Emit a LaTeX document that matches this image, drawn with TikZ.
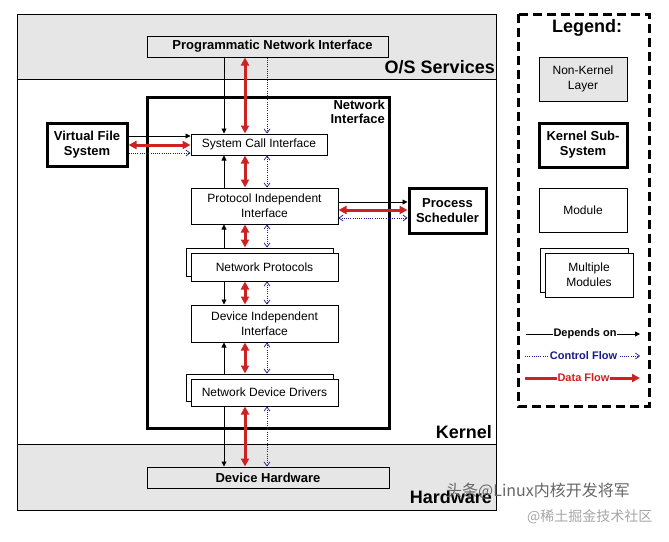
\documentclass[tikz,border=0pt]{standalone}
\usepackage{fontspec}
\setmainfont{Liberation Sans}
\newfontfamily\cjkfont{Noto Sans CJK SC}
\usetikzlibrary{arrows.meta,shadows}
\definecolor{bandgray}{HTML}{E6E6E6}
\definecolor{flowred}{HTML}{CC2222}
\definecolor{ctrlblue}{HTML}{1A1A8C}
\begin{document}
\begin{tikzpicture}[x=1pt,y=-1pt,
  plain/.style={draw, line width=1pt, fill=white, inner sep=0pt, align=center, font=\fontsize{12}{15}\selectfont},
  layerbox/.style={plain, fill=bandgray, font=\bfseries\fontsize{13}{15}\selectfont},
  subsys/.style={plain, line width=3pt, font=\bfseries\fontsize{13}{15}\selectfont},
  multi/.style={plain, copy shadow={shadow xshift=-5pt, shadow yshift=5pt, fill=white, draw=black, line width=1pt}},
  bigl/.style={font=\bfseries\fontsize{18}{20}\selectfont, inner sep=0pt},
  midl/.style={font=\bfseries\fontsize{13}{14}\selectfont, inner sep=0pt, align=right},
  legl/.style={font=\bfseries\fontsize{11}{12}\selectfont, fill=white, inner sep=1pt},
  dep/.style={line width=0.9pt, -{Triangle[length=5pt,width=5pt]}},
  data/.style={draw=flowred, line width=3pt, {Triangle[length=8pt,width=8pt]}-{Triangle[length=8pt,width=8pt]}},
  dataone/.style={draw=flowred, line width=3pt, -{Triangle[length=8pt,width=8pt]}},
  ctrl/.style={draw=ctrlblue, line width=0.7pt, dash pattern=on 1pt off 1.2pt, -{Straight Barb[length=4pt,width=6pt]}},
  ctrlb/.style={ctrl, {Straight Barb[length=4pt,width=6pt]}-{Straight Barb[length=4pt,width=6pt]}}
]
\useasboundingbox (0,0) rectangle (669,541);
% layers
\fill[bandgray] (17,14) rectangle (496,79);
\fill[bandgray] (17,444) rectangle (496,510);
\draw[line width=1pt] (17,79) -- (496,79);
\draw[line width=1pt] (17,444) -- (496,444);
\draw[line width=1pt] (17,14) rectangle (496,510);
\node[bigl, anchor=east] (oslab) at (495,67) {O/S Services};
\node[bigl, anchor=east] (kernlab) at (492,432) {Kernel};
\node[bigl, anchor=east] (hwlab) at (492,497) {Hardware};

% network interface subsystem
\node[draw, line width=3pt, minimum width=242pt, minimum height=331pt, inner sep=0pt] (ni) at (268,262.5) {};
\node[midl, anchor=north east] (nilab) at (385,100) {Network\\Interface};

% boxes
\node[layerbox, minimum width=241pt, minimum height=21pt] (pni) at (267.5,46.5) {\hspace*{10pt}Programmatic Network Interface};
\node[subsys, minimum width=80pt, minimum height=43pt] (vfs) at (87,144.5) {Virtual File\\System};
\node[plain, minimum width=136pt, minimum height=21pt] (sci) at (259,144.5) {System Call Interface};
\node[plain, minimum width=147pt, minimum height=36pt] (pii) at (264.5,206) {Protocol Independent\\Interface};
\node[subsys, minimum width=77pt, minimum height=45pt] (ps) at (447.5,210.5) {Process\\Scheduler};
\node[multi, minimum width=147pt, minimum height=28pt] (np) at (264.5,267) {Network Protocols};
\node[plain, minimum width=147pt, minimum height=37pt] (dii) at (264.5,323.5) {Device Independent\\Interface};
\node[multi, minimum width=147pt, minimum height=27pt] (ndd) at (264.5,392.5) {Network Device Drivers};
\node[layerbox, minimum width=242pt, minimum height=21pt] (dh) at (268,477.5) {Device Hardware};

\coordinate (bx) at (224,0);
\coordinate (rx) at (245,0);
\coordinate (ux) at (267,0);
\coordinate (nptop) at ([yshift=5pt]np.north);
\coordinate (nddtop) at ([yshift=5pt]ndd.north);

% PNI <-> SCI
\draw[dep] (pni.south -| bx) -- (sci.north -| bx);
\draw[data] (pni.south -| rx) -- (sci.north -| rx);
\draw[ctrl] (pni.south -| ux) -- (sci.north -| ux);
% PII -> SCI
\draw[dep] (pii.north -| bx) -- (sci.south -| bx);
\draw[data] (pii.north -| rx) -- (sci.south -| rx);
\draw[ctrlb] (pii.north -| ux) -- (sci.south -| ux);
% NP -> PII
\draw[dep] (nptop -| bx) -- (pii.south -| bx);
\draw[data] (nptop -| rx) -- (pii.south -| rx);
\draw[ctrlb] (nptop -| ux) -- (pii.south -| ux);
% NP -> DII
\draw[dep] (np.south -| bx) -- (dii.north -| bx);
\draw[data] (np.south -| rx) -- (dii.north -| rx);
\draw[ctrlb] (np.south -| ux) -- (dii.north -| ux);
% NDD -> DII
\draw[dep] (nddtop -| bx) -- (dii.south -| bx);
\draw[data] (nddtop -| rx) -- (dii.south -| rx);
\draw[ctrlb] (nddtop -| ux) -- (dii.south -| ux);
% NDD -> DH
\draw[dep] (ndd.south -| bx) -- (dh.north -| bx);
\draw[data] (ndd.south -| rx) -- (dh.north -| rx);
\draw[ctrlb] (ndd.south -| ux) -- (dh.north -| ux);

% horizontal
\coordinate (vy1) at (0,136);
\coordinate (vy2) at (0,145);
\coordinate (vy3) at (0,153);
\draw[dep] (vfs.east |- vy1) -- (sci.west |- vy1);
\draw[data] (vfs.east |- vy2) -- (sci.west |- vy2);
\draw[ctrl] (vfs.east |- vy3) -- (sci.west |- vy3);
\coordinate (py1) at (0,202);
\coordinate (py2) at (0,210);
\coordinate (py3) at (0,218);
\draw[dep] (pii.east |- py1) -- (ps.west |- py1);
\draw[data] (pii.east |- py2) -- (ps.west |- py2);
\draw[ctrlb] (pii.east |- py3) -- (ps.west |- py3);

% legend
\draw[line width=3pt, dash pattern=on 9pt off 5pt] (518,14) rectangle (649,406);
\node[bigl] (leg) at (587,28) {Legend:};
\node[plain, fill=bandgray, minimum width=88pt, minimum height=44pt] (lnk) at (583,79) {Non-Kernel\\Layer};
\node[subsys, minimum width=88pt, minimum height=44pt] (lks) at (583,145) {Kernel Sub-\\System};
\node[plain, minimum width=88pt, minimum height=44pt] (lmod) at (583,210) {Module};
\node[multi, minimum width=88pt, minimum height=44pt] (lmm) at (589,275) {Multiple\\Modules};
\coordinate (la1) at (526,334); \coordinate (la2) at (640,334);
\coordinate (lb1) at (525,356); \coordinate (lb2) at (640,356);
\coordinate (lc1) at (525,378); \coordinate (lc2) at (640,378);
\draw[dep] (la1) -- (la2);
\draw[ctrl] (lb1) -- (lb2);
\draw[dataone] (lc1) -- (lc2);
\node[legl] (ldep) at (585,334) {Depends on};
\node[legl, text=ctrlblue] (lctrl) at (583.5,356) {Control Flow};
\node[legl, text=flowred] (ldata) at (583.5,378) {Data Flow};

% watermarks
\node[font=\cjkfont\fontsize{16}{16}\selectfont, text=black!60, anchor=west, inner sep=0pt] (wm1) at (446,491) {头条@Linux内核开发将军};
\node[font=\cjkfont\fontsize{14}{14}\selectfont, text=black!35, anchor=west, inner sep=0pt] (wm2) at (527,517) {@稀土掘金技术社区};
\end{tikzpicture}
\end{document}
